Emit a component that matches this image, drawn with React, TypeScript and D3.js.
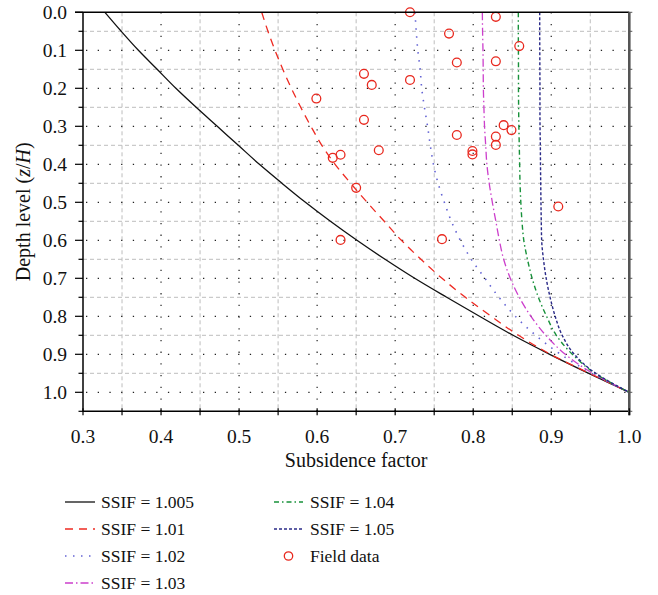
import React from "react";
import * as d3 from "d3";

const depthLevels = [0, 0.05, 0.1, 0.15, 0.2, 0.25, 0.3, 0.35, 0.4, 0.45, 0.5, 0.55, 0.6, 0.65, 0.7, 0.75, 0.8, 0.85, 0.9, 0.95, 1.0];

const ssif1005 = [0.328, 0.349, 0.371, 0.395, 0.419, 0.445, 0.472, 0.499, 0.526, 0.555, 0.585, 0.617, 0.651, 0.687, 0.725, 0.766, 0.808, 0.851, 0.898, 0.948, 1.0];
const ssif101 = [0.529, 0.537, 0.546, 0.556, 0.567, 0.579, 0.592, 0.606, 0.623, 0.643, 0.664, 0.686, 0.708, 0.733, 0.76, 0.79, 0.823, 0.858, 0.899, 0.949, 1.0];
const ssif102 = [0.7254, 0.727, 0.729, 0.732, 0.734, 0.7375, 0.7415, 0.745, 0.749, 0.755, 0.763, 0.772, 0.7835, 0.7975, 0.815, 0.833, 0.854, 0.88, 0.912, 0.952, 1.0];
const ssif103 = [0.8117, 0.812, 0.8125, 0.8128, 0.813, 0.8137, 0.8145, 0.816, 0.8175, 0.8205, 0.8245, 0.829, 0.8335, 0.839, 0.8475, 0.859, 0.874, 0.893, 0.918, 0.953, 1.0];
const ssif104 = [0.8578, 0.8578, 0.8579, 0.858, 0.858, 0.8582, 0.8585, 0.859, 0.8595, 0.86, 0.861, 0.8625, 0.8648, 0.8695, 0.8755, 0.8835, 0.894, 0.9065, 0.927, 0.956, 1.0];
const ssif105 = [0.8852, 0.8852, 0.8853, 0.8854, 0.8855, 0.8855, 0.8856, 0.886, 0.8862, 0.8865, 0.8868, 0.8872, 0.8877, 0.89, 0.8935, 0.8985, 0.905, 0.914, 0.9295, 0.957, 1.0];

const fieldX = [0.719, 0.829, 0.769, 0.859, 0.779, 0.829, 0.66, 0.67, 0.719, 0.599, 0.66, 0.839, 0.849, 0.779, 0.829, 0.829, 0.799, 0.799, 0.679, 0.62, 0.63, 0.65, 0.909, 0.63, 0.76];
const fieldZ = [0.0, 0.012, 0.056, 0.089, 0.132, 0.129, 0.162, 0.191, 0.178, 0.227, 0.283, 0.297, 0.31, 0.323, 0.327, 0.349, 0.365, 0.374, 0.363, 0.383, 0.375, 0.462, 0.511, 0.599, 0.597];

const xTicks = [0.3, 0.4, 0.5, 0.6, 0.7, 0.8, 0.9, 1.0];
const yTicks = [0.0, 0.1, 0.2, 0.3, 0.4, 0.5, 0.6, 0.7, 0.8, 0.9, 1.0];
const seriesNames = ["SSIF = 1.005", "SSIF = 1.01", "SSIF = 1.02", "SSIF = 1.03", "SSIF = 1.04", "SSIF = 1.05"];
const fieldName = "Field data";

const FONT = "'Liberation Serif', 'DejaVu Serif', serif";

const styles = [
  { color: "#111111", dash: "", width: 1.3 },
  { color: "#ee2a22", dash: "8,6", width: 1.3 },
  { color: "#6464d4", dash: "1.5,6.5", width: 1.6 },
  { color: "#cc3fcc", dash: "8,3,1.5,3", width: 1.3 },
  { color: "#17913a", dash: "5,3,1.5,3", width: 1.4 },
  { color: "#2a2a88", dash: "3,2", width: 1.4 },
];
const fieldColor = "#e8281e";

export default function App() {
  const W = 658, H = 595;
  const x = d3.scaleLinear().domain([0.3, 1.0]).range([83, 629.3]);
  const y = d3.scaleLinear().domain([0, 1.05]).range([12.3, 411.3]);
  const allSeries = [ssif1005, ssif101, ssif102, ssif103, ssif104, ssif105];

  const line = d3
    .line<[number, number]>()
    .x((d) => x(d[0]))
    .y((d) => y(d[1]))
    .curve(d3.curveMonotoneY);

  const minorX = d3.range(0.35, 1.0, 0.1);
  const majorXGrid = [0.4, 0.5, 0.6, 0.7, 0.8, 0.9];
  const minorY = d3.range(0.05, 1.0, 0.1);
  const majorYGrid = [0.1, 0.2, 0.3, 0.4, 0.5, 0.6, 0.7, 0.8, 0.9, 1.0];
  const allYTicks = d3.range(0, 1.06, 0.05);
  const allXTicks = d3.range(0.3, 1.001, 0.05);

  const x0 = x(0.3), x1 = x(1.0), y0 = y(0), y1 = y(1.05);

  const legendRows = [502, 529, 556, 583];
  const legendItems = [
    { col: 0, row: 0, s: 0 },
    { col: 0, row: 1, s: 1 },
    { col: 0, row: 2, s: 2 },
    { col: 0, row: 3, s: 3 },
    { col: 1, row: 0, s: 4 },
    { col: 1, row: 1, s: 5 },
  ];
  const colLine = [[65, 95], [274, 303]];
  const colText = [101, 310];

  return (
    <svg width={W} height={H} style={{ position: "absolute", left: 0, top: 0, background: "#fff" }} fontFamily={FONT}>
      {minorX.map((v, i) => (
        <line key={"mx" + i} x1={x(v)} x2={x(v)} y1={y0} y2={y1} stroke="#bdbdbd" strokeWidth={1} strokeDasharray="4,3" />
      ))}
      {minorY.map((v, i) => (
        <line key={"my" + i} x1={x0} x2={x1} y1={y(v)} y2={y(v)} stroke="#bdbdbd" strokeWidth={1} strokeDasharray="4,3" />
      ))}
      {majorXGrid.map((v, i) => (
        <line key={"Mx" + i} x1={x(v)} x2={x(v)} y1={y0} y2={y1} stroke="#333" strokeWidth={1.3} strokeDasharray="1.3,10.4" />
      ))}
      {majorYGrid.map((v, i) => (
        <line key={"My" + i} x1={x0} x2={x1} y1={y(v)} y2={y(v)} stroke="#222" strokeWidth={1.3} strokeDasharray="1.3,10.4" strokeDashoffset={-3} />
      ))}

      {allSeries.map((vals, si) => {
        const pts = vals.map((v, i) => [v, depthLevels[i]] as [number, number]);
        const st = styles[si];
        return (
          <path key={"s" + si} d={line(pts) || ""} fill="none" stroke={st.color} strokeWidth={st.width} strokeDasharray={st.dash || undefined} />
        );
      })}

      {fieldX.map((v, i) => (
        <circle key={"f" + i} cx={x(v)} cy={y(fieldZ[i])} r={4.4} fill="none" stroke={fieldColor} strokeWidth={1.3} />
      ))}

      <line x1={x0 - 8} x2={x1} y1={y0} y2={y0} stroke="#000" strokeWidth={1.5} />
      <line x1={x0} x2={x1 + 1} y1={y1} y2={y1} stroke="#000" strokeWidth={1.5} />
      <line x1={x0} x2={x0} y1={y0} y2={y1} stroke="#000" strokeWidth={1.5} />
      <line x1={x1} x2={x1} y1={y0} y2={y1 + 4} stroke="#555" strokeWidth={2.6} />

      {allYTicks.map((v, i) => {
        const major = i % 2 === 0;
        return <line key={"lt" + i} x1={x0 - (major ? 8 : 4.5)} x2={x0} y1={y(v)} y2={y(v)} stroke="#000" strokeWidth={1.2} />;
      })}
      {allYTicks.map((v, i) => (
        <line key={"rt" + i} x1={x1} x2={x1 + 3} y1={y(v)} y2={y(v)} stroke="#555" strokeWidth={1} />
      ))}
      {allXTicks.map((v, i) => (
        <line key={"bt" + i} x1={x(v)} x2={x(v)} y1={y1 - 3} y2={y1 + 4} stroke="#000" strokeWidth={1.2} />
      ))}

      {yTicks.map((v, i) => (
        <text key={"yl" + i} x={67} y={y(v) + 6.5} textAnchor="end" fontSize={19.5} fill="#111">
          {v.toFixed(1)}
        </text>
      ))}
      {xTicks.map((v, i) => (
        <text key={"xl" + i} x={x(v)} y={443} textAnchor="middle" fontSize={19.5} fill="#111">
          {v.toFixed(1)}
        </text>
      ))}

      <text x={(x0 + x1) / 2} y={466.5} textAnchor="middle" fontSize={20} fill="#111">
        Subsidence factor
      </text>
      <text transform={`translate(29.5, ${(y0 + y1) / 2}) rotate(-90)`} textAnchor="middle" fontSize={20} fill="#111">
        Depth level (<tspan fontStyle="italic">z</tspan>/<tspan fontStyle="italic">H</tspan>)
      </text>

      {legendItems.map((it, i) => {
        const st = styles[it.s];
        const ly = legendRows[it.row];
        return (
          <g key={"lg" + i}>
            <line x1={colLine[it.col][0]} x2={colLine[it.col][1]} y1={ly} y2={ly} stroke={st.color} strokeWidth={st.width} strokeDasharray={st.dash || undefined} />
            <text x={colText[it.col]} y={ly + 6} fontSize={17.5} fill="#111">
              {seriesNames[it.s]}
            </text>
          </g>
        );
      })}
      <circle cx={288.5} cy={legendRows[2]} r={4.2} fill="none" stroke={fieldColor} strokeWidth={1.3} />
      <text x={colText[1]} y={legendRows[2] + 6} fontSize={17.5} fill="#111">
        {fieldName}
      </text>
    </svg>
  );
}
